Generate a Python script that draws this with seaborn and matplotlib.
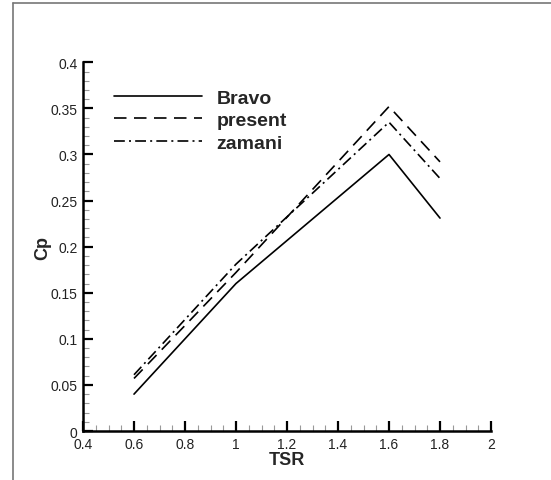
import matplotlib
matplotlib.use("Agg")
import matplotlib.pyplot as plt
from matplotlib.lines import Line2D
from matplotlib.ticker import MultipleLocator, FuncFormatter
import seaborn as sns
import pandas as pd

# Power coefficient versus tip speed ratio
tsr = [0.6, 1.0, 1.6, 1.8]
cp_bravo = [0.040, 0.160, 0.300, 0.231]
cp_present = [0.057, 0.172, 0.352, 0.292]
cp_zamani = [0.061, 0.181, 0.335, 0.274]
series_names = ["Bravo", "present", "zamani"]

df = pd.concat([
    pd.DataFrame({"TSR": tsr, "Cp": cp_bravo, "series": "Bravo"}),
    pd.DataFrame({"TSR": tsr, "Cp": cp_present, "series": "present"}),
    pd.DataFrame({"TSR": tsr, "Cp": cp_zamani, "series": "zamani"}),
], ignore_index=True)

sns.set_theme(style="white")
plt.rcParams["font.family"] = ["Liberation Sans", "DejaVu Sans"]

fig = plt.figure(figsize=(5.51, 4.81), dpi=100)
ax = fig.add_axes([83 / 551, 1 - 432 / 481, 408 / 551, 368.7 / 481])

dash_pattern = (7.5, 4.5)
dashdot_pattern = (6.5, 2.5, 1.2, 2.5)
dash_styles = {"Bravo": "", "present": dash_pattern, "zamani": dashdot_pattern}
sns.lineplot(data=df, x="TSR", y="Cp", style="series", style_order=series_names,
             dashes=dash_styles, color="black", linewidth=1.2, ax=ax, legend=False)

ax.set_xlim(0.4, 2.0)
ax.set_ylim(0.0, 0.4)
ax.xaxis.set_major_locator(MultipleLocator(0.2))
ax.xaxis.set_minor_locator(MultipleLocator(0.05))
ax.yaxis.set_major_locator(MultipleLocator(0.05))
ax.yaxis.set_minor_locator(MultipleLocator(0.01))

def fmt(v, pos):
    return f"{v:.2f}".rstrip("0").rstrip(".")

ax.xaxis.set_major_formatter(FuncFormatter(fmt))
ax.yaxis.set_major_formatter(FuncFormatter(fmt))

for side in ["top", "right"]:
    ax.spines[side].set_visible(False)
for side in ["left", "bottom"]:
    ax.spines[side].set_color("black")
    ax.spines[side].set_linewidth(1.8)

ax.tick_params(which="major", direction="in", length=7, width=1.6, color="black",
               labelsize=10, labelcolor="#222222", pad=4)
ax.tick_params(which="minor", direction="in", length=4, width=0.8, color="#999999")
ax.tick_params(axis="y", which="both", left=True, right=False)
ax.tick_params(axis="x", which="both", bottom=True, top=False)

ax.set_xlabel("TSR", fontsize=13, fontweight="bold", labelpad=0)
ax.set_ylabel("Cp", fontsize=13, fontweight="bold", labelpad=-1)

handles = [Line2D([], [], color="black", linewidth=1.2, linestyle="-"),
           Line2D([], [], color="black", linewidth=1.2, linestyle=(0, dash_pattern)),
           Line2D([], [], color="black", linewidth=1.2, linestyle=(0, dashdot_pattern))]
leg = ax.legend(handles, series_names, loc="upper left", bbox_to_anchor=(0.034, 0.975),
                frameon=False, handlelength=4.5, handletextpad=0.75, labelspacing=0.25,
                prop={"family": "Liberation Sans", "weight": "bold", "size": 14})

# outer frame lines (top and left)
fig.add_artist(Line2D([13 / 551, 1.0], [1 - 4 / 481, 1 - 4 / 481], color="#777777", linewidth=1.2))
fig.add_artist(Line2D([13 / 551, 13 / 551], [0.0, 1 - 4 / 481], color="#777777", linewidth=1.2))

fig.savefig("out.png", dpi=100, facecolor="white")
